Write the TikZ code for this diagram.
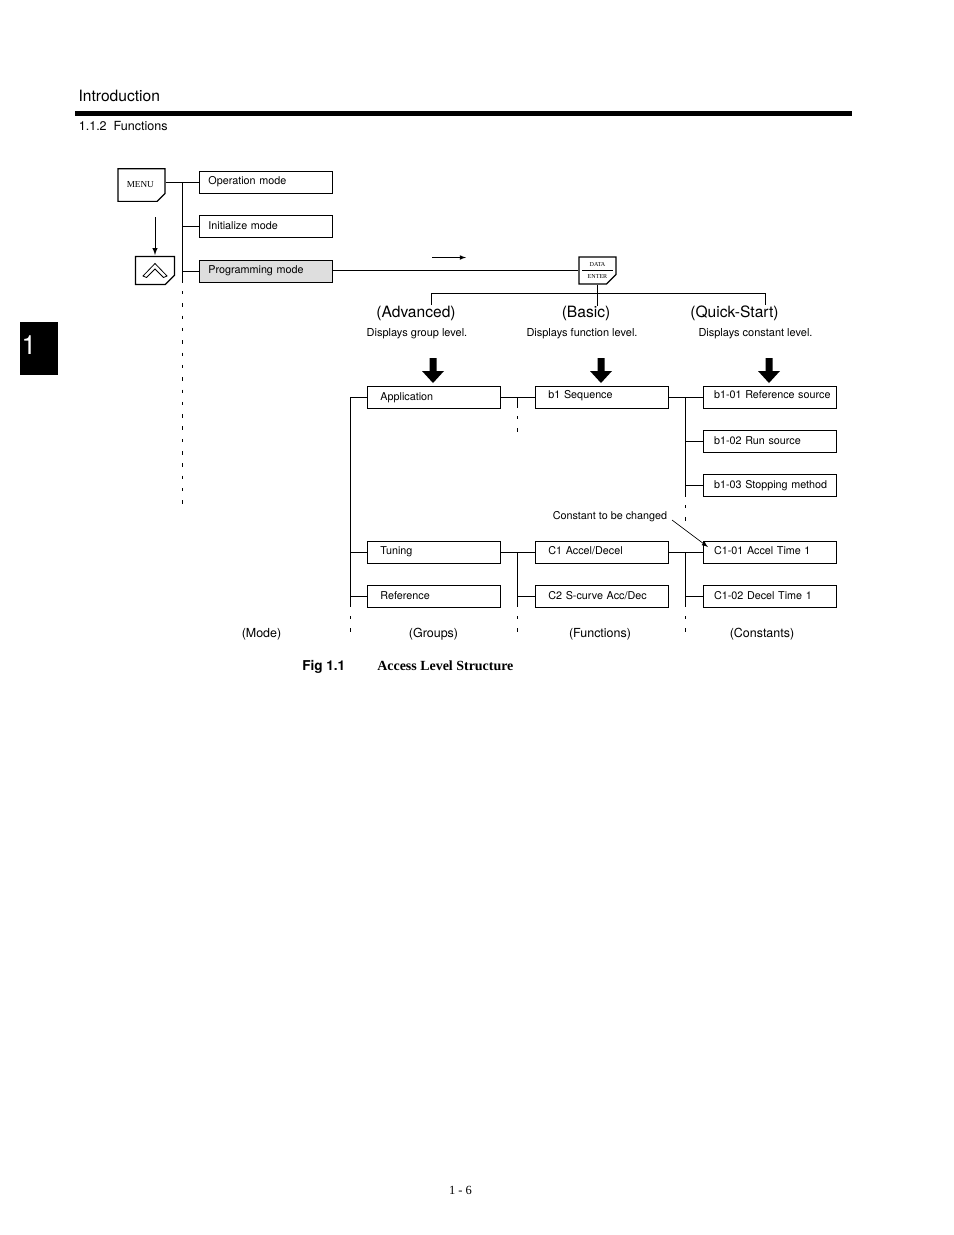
\documentclass[tikz,border=0pt]{standalone}
\usepackage{fontspec}
\setmainfont{TeX Gyre Heros}
\newfontfamily\timesfont{Liberation Serif}
\usetikzlibrary{shapes.misc}

\tikzset{
    fsize/.style={font=\fontsize{#1}{#1}\selectfont},
    % box of the tree: #1 left gap of the text, #2 how far the baseline sits below the middle
    levelbox/.style 2 args={draw,line width=.55pt,inner sep=0pt,minimum width=85.3pt,minimum height=14.1pt,
        text width=85.3pt,align=left,text height=4.5pt+#2,text depth=3.5pt-#2,fsize=6.92,
        execute at begin node={\hspace*{#1}}},
    keybox/.style={draw,line width=.8pt,chamfered rectangle,chamfered rectangle corners=south east,
        chamfered rectangle xsep=3pt,chamfered rectangle ysep=3pt,inner sep=0pt},
    dashline/.style={line width=.55pt,dash pattern=on 2.2pt off 5.7pt},
    treeline/.style={line width=.55pt}
}

\begin{document}
\begin{tikzpicture}[>=latex,x=.6415pt,y=-.6415pt]
    \useasboundingbox (0,0) rectangle (954,1235);

    % page furniture
    \node (title) [anchor=west,inner sep=0pt,fsize=10] at (78.3,96) {Introduction};
    \fill (75,111) rectangle (852,116);
    \node (section) [anchor=west,inner sep=0pt,fsize=8.05] at (78.5,126) {1.1.2\ \ Functions};
    \node (tab) [fill=black,minimum width=24.4pt,minimum height=34pt,inner sep=0pt] at (39,348.5) {};
    \node (tabnum) [text=white,inner sep=0pt,fsize=17] at (29,345) {1};
    \node (pagenum) [inner sep=0pt,font=\timesfont\fontsize{8}{8}\selectfont] at (460.5,1190) {1 - 6};

    % keys
    \node (menu) [keybox,minimum width=30pt,minimum height=21pt,font=\timesfont\fontsize{5.9}{6}\selectfont] at (141.5,185) {MENU\hspace*{1.5pt}};
    \node (upkey) [keybox,minimum width=24pt,minimum height=17.3pt] at (155,270.5) {\phantom{\rule{19pt}{12pt}}};
    \draw[line width=.5pt,fill=white] (143,276)--(155,263.5)--(167,276)--(163.5,277.5)--(155,269)--(146.5,277.5)--cycle;
    \node (data) [keybox,minimum width=23.7pt,minimum height=17.3pt,align=center,font=\timesfont\fontsize{3.9}{7.4}\selectfont] at (597.5,270.5) {DATA\\ENTER};
    \draw[line width=.4pt] ([xshift=2.5pt]data.west)--([xshift=-2.5pt]data.east);

    % mode column
    \node (opmode) [levelbox={6pt}{1pt}] at (265.5,182) {Operation mode};
    \node (initmode) [levelbox={6pt}{1.6pt}] at (265.5,226) {Initialize mode};
    \node (progmode) [levelbox={6pt}{1pt},fill=black!13] at (265.5,271) {Programming mode};
    \coordinate (modetop) at (182.5,182);
    \coordinate (modeend) at (182.5,283);
    \coordinate (modelast) at (182.5,504);
    \draw[treeline] (opmode.west-|menu.east)--(opmode.west);
    \draw[treeline] (modetop)--(modeend);
    \draw[dashline] (182.5,291)--(modelast);
    \draw[treeline] (initmode.west-|modetop)--(initmode.west);
    \draw[treeline] (progmode.west-|modetop)--(progmode.west);
    \draw[treeline] (data.west-|progmode.east)--(data.west);

    \coordinate (arrowa) at (155,217);
    \coordinate (arrowb) at (155,255);
    \draw[->,line width=.55pt] (arrowa)--(arrowb);
    \coordinate (arrowc) at (432,257.5);
    \coordinate (arrowd) at (466,257.5);
    \draw[->,line width=.4pt] (arrowc)--(arrowd);

    % three access levels
    \node (advanced) [inner sep=0pt,fsize=10] at (416,313.5) {(Advanced)};
    \node (basic) [inner sep=0pt,fsize=10] at (586,313.5) {(Basic)};
    \node (quick) [inner sep=0pt,fsize=10] at (734.5,313.5) {(Quick-Start)};
    \node (advtext) [inner sep=0pt,fsize=7.05] at (417,333.5) {Displays group level.};
    \node (bastext) [inner sep=0pt,fsize=7.05] at (582,333.5) {Displays function level.};
    \node (quitext) [inner sep=0pt,fsize=7.05] at (755.5,333.5) {Displays constant level.};
    \draw[treeline] (data.south)--(basic.north-|data.south);
    \draw[treeline] (431,305)--(431,293.5)--(765,293.5)--(765,305);

    \foreach \x in {433,601,769}
    {
        \fill (\x-3.5,358)--(\x+3.5,358)--(\x+3.5,371)--(\x+11,371)--(\x,383)--(\x-11,371)--(\x-3.5,371)--cycle;
    }

    % groups
    \node (app) [levelbox={8.6pt}{1.9pt}] at (433.5,397) {Application};
    \node (tuning) [levelbox={8.6pt}{1.2pt}] at (433.5,552) {Tuning};
    \node (refer) [levelbox={8.6pt}{1.9pt}] at (433.5,596) {Reference};

    % functions
    \node (seq) [levelbox={8.6pt}{.6pt}] at (601.5,397) {b1 Sequence};
    \node (accel) [levelbox={8.6pt}{1.2pt}] at (601.5,552) {C1 Accel/Decel};
    \node (scurve) [levelbox={8.6pt}{1.9pt}] at (601.5,596) {C2 S-curve Acc/Dec};

    % constants
    \node (refsrc) [levelbox={7.1pt}{.6pt}] at (769.5,397) {b1-01 Reference source};
    \node (runsrc) [levelbox={7.1pt}{1.9pt}] at (769.5,441) {b1-02 Run source};
    \node (stop) [levelbox={7.1pt}{1.9pt}] at (769.5,485) {b1-03 Stopping method};
    \node (acctime) [levelbox={7.1pt}{1.2pt}] at (769.5,552) {C1-01 Accel Time 1};
    \node (dectime) [levelbox={7.1pt}{1.9pt}] at (769.5,596) {C1-02 Decel Time 1};

    % trunks
    \draw[treeline] (350.5,397)--(350.5,607);
    \draw[dashline] (350.5,616)--(350.5,632);
    \foreach \nm in {app,tuning,refer}
    {
        \draw[treeline] (\nm.west-|350.5,0)--(\nm.west);
    }
    \draw[treeline] (app.east)--(seq.west);
    \draw[treeline] (tuning.east)--(accel.west);
    \draw[treeline] (517,397)--(517,408);
    \draw[dashline] (517,416)--(517,432);
    \draw[treeline] (517,552)--(517,607);
    \draw[treeline] (scurve.west-|517,0)--(scurve.west);
    \draw[dashline] (517,616)--(517,632);

    \draw[treeline] (seq.east)--(refsrc.west);
    \draw[treeline] (accel.east)--(acctime.west);
    \draw[treeline] (685.5,397)--(685.5,497);
    \draw[dashline] (685.5,505)--(685.5,521);
    \draw[treeline] (685.5,552)--(685.5,607);
    \draw[dashline] (685.5,616)--(685.5,637);
    \foreach \nm in {runsrc,stop,dectime}
    {
        \draw[treeline] (\nm.west-|685.5,0)--(\nm.west);
    }

    % note
    \node (note) [inner sep=0pt,fsize=6.92] at (610,516.5) {Constant to be changed};
    \coordinate (noteend) at (672,520);
    \coordinate (notetip) at (708,547);
    \draw[->,line width=.4pt] (noteend)--(notetip);

    % column titles
    \node (colmode) [inner sep=0pt,fsize=8] at (261.5,634.5) {(Mode)};
    \node (colgroup) [inner sep=0pt,fsize=8] at (433.5,634.5) {(Groups)};
    \node (colfunc) [inner sep=0pt,fsize=8] at (600,634.5) {(Functions)};
    \node (colcons) [inner sep=0pt,fsize=8] at (762,634.5) {(Constants)};

    \node (figno) [anchor=west,inner sep=0pt,font=\bfseries\fontsize{8.7}{9}\selectfont] at (302,666.5) {Fig 1.1};
    \node (figname) [anchor=west,inner sep=0pt,font=\timesfont\bfseries\fontsize{8.95}{10}\selectfont] at (377,665.5) {Access Level Structure};
\end{tikzpicture}
\end{document}
